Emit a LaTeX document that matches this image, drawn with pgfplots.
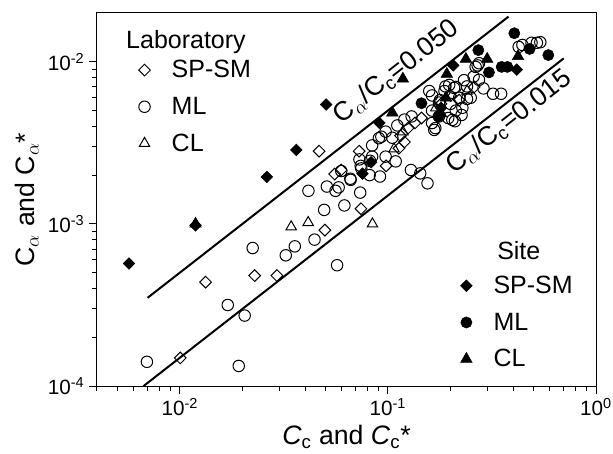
\documentclass[border=0pt]{standalone}
\usepackage{fontspec}
\setmainfont{Liberation Sans}
\usepackage{pgfplots}
\pgfplotsset{compat=1.18}
\begin{document}
\begin{tikzpicture}
\path[use as bounding box] (-72.75pt,-50.25pt) rectangle (387pt,289.5pt);
\begin{axis}[
  scale only axis, width=374.25pt, height=279.75pt,
  xmode=log, ymode=log,
  xmin=0.004, xmax=1, ymin=1e-4, ymax=0.02,
  at={(0pt,0pt)}, anchor=south west,
  clip=false,
  legend cell align=left,
  legend style={draw=none, fill=none, font=\fontsize{18.75}{20}\selectfont,
    row sep=9pt, column sep=14pt, at={(0.075,0.888)}, anchor=north west},
  axis line style={line width=0.75pt},
  xtick pos=bottom, ytick pos=left, tick align=outside,
  major tick length=6pt, minor tick length=3.5pt,
  tick style={line width=0.75pt, black},
  xticklabel={10\textsuperscript{\pgfmathparse{int(round(\tick/2.302585093))}\pgfmathresult}},
  yticklabel={10\textsuperscript{\pgfmathparse{int(round(\tick/2.302585093))}\pgfmathresult}},
  tick label style={font=\fontsize{15.5}{16}\selectfont},
  label style={font=\fontsize{20}{22}\selectfont},
  xlabel={\textit{C}\textsubscript{c} and \textit{C}\textsubscript{c}*},
  ylabel={C$_\alpha$ and C$_\alpha$*},
]
% Laboratory SP-SM (open diamonds)
\addplot[only marks, mark=square, mark size=3.1pt, mark options={rotate=45, line width=0.75pt, black}] coordinates {
(0.01005,1.49e-4) (0.0133,4.37e-4) (0.0229,4.8e-4) (0.0293,4.8e-4) (0.0498,9.15e-4)
(0.0742,1.24e-3) (0.0467,2.81e-3) (0.0728,2.81e-3) (0.0555,2.03e-3) (0.0596,2.15e-3)
(0.098,2.28e-3) (0.113,2.93e-3) (0.115,3.5e-3) (0.125,3.9e-3) (0.135,4.2e-3)
(0.145,4.5e-3) (0.12,3.2e-3) (0.18,5.5e-3) (0.2,6.2e-3) (0.22,5.8e-3) (0.26,7.0e-3)
};
\addlegendentry{SP-SM}
% Laboratory ML (open circles)
\addplot[only marks, mark=o, mark size=4.3pt, mark options={line width=0.75pt, black}] coordinates {
(0.00695,1.41e-4) (0.0192,1.33e-4) (0.0170,3.16e-4) (0.0205,2.72e-4) (0.0224,7.1e-4)
(0.0323,6.4e-4) (0.0357,7.27e-4) (0.0444,8.0e-4) (0.0570,5.56e-4) (0.0494,1.22e-3)
(0.0618,1.30e-3) (0.0736,1.56e-3) (0.0415,1.60e-3) (0.0509,1.70e-3) (0.0560,1.60e-3)
(0.0580,1.68e-3) (0.0662,1.87e-3) (0.0597,2.12e-3) (0.0745,2.20e-3) (0.0820,2.45e-3)
(0.0840,2.60e-3) (0.0840,3.05e-3) (0.0916,1.96e-3) (0.0975,2.60e-3) (0.109,2.43e-3)
(0.129,2.15e-3) (0.143,2.05e-3) (0.155,1.78e-3) (0.111,4.05e-3) (0.093,3.45e-3)
(0.0975,3.71e-3) (0.0905,3.38e-3) (0.0817,2.00e-3) (0.074,2.28e-3) (0.158,6.6e-3)
(0.187,6.6e-3) (0.212,7.0e-3) (0.232,7.7e-3) (0.264,9.3e-3) (0.258,8.1e-3)
(0.288,6.85e-3) (0.32,6.35e-3) (0.35,6.35e-3) (0.425,1.236e-2) (0.49,1.31e-2)
(0.52,1.31e-2) (0.54,1.32e-2) (0.443,1.27e-2) (0.167,3.8e-3) (0.195,4.5e-3)
(0.21,4.3e-3) (0.226,4.7e-3) (0.163,5.0e-3) (0.178,5.8e-3) (0.20,5.5e-3)
(0.24,5.9e-3) (0.22,6.0e-3) (0.163,4.19e-3) (0.169,3.9e-3) (0.204,4.38e-3)
(0.189,7.05e-3) (0.208,6.9e-3) (0.163,6.2e-3) (0.176,5.6e-3) (0.212,5.0e-3)
(0.274,7.74e-3) (0.274,9.8e-3) (0.240,7.05e-3) (0.25,6.0e-3) (0.197,7.2e-3)
(0.228,5.2e-3) (0.176,4.6e-3) (0.12,4.4e-3) (0.13,4.6e-3) (0.105,3.4e-3)
(0.073,2.5e-3) (0.066,1.9e-3) (0.27,9.5e-3)
};
\addlegendentry{ML}
% Laboratory CL (open triangles)
\addplot[only marks, mark=triangle, mark size=4.5pt, mark options={line width=0.75pt, black}] coordinates {
(0.0343,9.6e-4) (0.0414,1.02e-3) (0.0843,1.0e-3) (0.107,2.9e-3) (0.118,3.7e-3)
(0.17,5.2e-3) (0.24,6.6e-3)
};
\addlegendentry{CL}
% reference lines
\addplot[line width=1.5pt, forget plot] coordinates {(0.007,3.5e-4) (0.38,0.019)};
\addplot[line width=1.5pt, forget plot] coordinates {(0.0067,1.0e-4) (0.70,0.0105)};
\node[rotate=38, font=\fontsize{20}{22}\selectfont] at (axis cs:0.110,8.67e-3) {C$_\alpha$/C\textsubscript{c}=0.050};
\node[rotate=38, font=\fontsize{20}{22}\selectfont] at (axis cs:0.382,4.27e-3) {C$_\alpha$/C\textsubscript{c}=0.015};
\node[anchor=base west, inner sep=0pt, font=\fontsize{18.75}{20}\selectfont] at (rel axis cs:0.058,0.906) {Laboratory};
\node[anchor=base west, inner sep=0pt, font=\fontsize{18.75}{20}\selectfont] at (rel axis cs:0.8016,0.338) {Site};
\end{axis}
\begin{axis}[
  scale only axis, width=374.25pt, height=279.75pt,
  xmode=log, ymode=log,
  xmin=0.004, xmax=1, ymin=1e-4, ymax=0.02,
  at={(0pt,0pt)}, anchor=south west,
  clip=false, hide axis,
  legend cell align=left,
  legend style={draw=none, fill=none, font=\fontsize{18.75}{20}\selectfont,
    row sep=9pt, column sep=14pt, at={(0.72,0.031)}, anchor=south west},
]
% Site SP-SM (filled diamonds)
\addplot[only marks, mark=square*, mark size=3.1pt, mark options={rotate=45, black, fill=black}] coordinates {
(0.0057,5.7e-4) (0.0119,9.8e-4) (0.0262,1.95e-3) (0.0363,2.86e-3) (0.0505,5.45e-3)
(0.091,4.2e-3) (0.0755,2.04e-3) (0.083,2.4e-3) (0.206,9.5e-3) (0.416,8.95e-3)
(0.18,5.2e-3)
};
\addlegendentry{SP-SM}
% Site ML (filled circles)
\addplot[only marks, mark=*, mark size=4.2pt, mark options={black, fill=black}] coordinates {
(0.405,1.50e-2) (0.272,1.18e-2) (0.48,1.20e-2) (0.59,1.10e-2) (0.306,8.6e-3)
(0.352,9.3e-3) (0.375,9.3e-3) (0.145,5.55e-3) (0.175,4.6e-3)
};
\addlegendentry{ML}
% Site CL (filled triangles)
\addplot[only marks, mark=triangle*, mark size=5pt, mark options={black, fill=black}] coordinates {
(0.0119,1.0e-3) (0.118,7.85e-3) (0.105,4.85e-3) (0.192,8.4e-3) (0.237,1.04e-2)
(0.30,1.04e-2) (0.422,1.08e-2) (0.19,6.0e-3) (0.18,4.8e-3)
};
\addlegendentry{CL}
\end{axis}
\end{tikzpicture}
\end{document}
